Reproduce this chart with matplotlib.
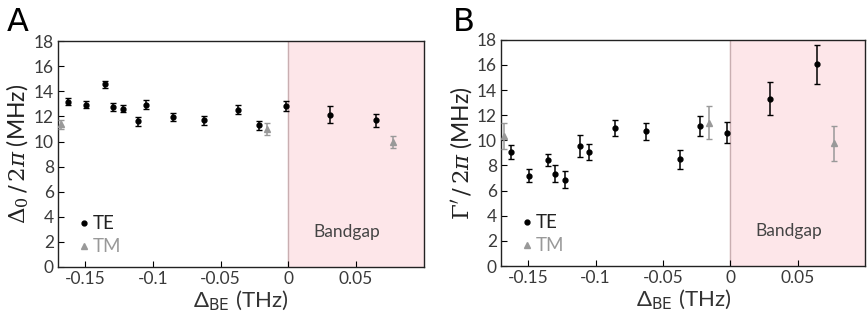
import numpy as np
import matplotlib
matplotlib.use("Agg")
import matplotlib.pyplot as plt

plt.rcParams["font.family"] = ["Lato", "DejaVu Sans"]
plt.rcParams["mathtext.fontset"] = "dejavuserif"

# panel A: Delta_0 / 2pi
te_x_a = [-0.1624, -0.149, -0.135, -0.1295, -0.1223, -0.111, -0.1048, -0.0852,
          -0.0624, -0.0369, -0.022, -0.002, 0.0305, 0.0646]
te_y_a = [13.16, 12.95, 14.55, 12.74, 12.63, 11.6, 12.95, 11.97,
          11.68, 12.53, 11.3, 12.85, 12.15, 11.68]
te_e_a = [0.28, 0.25, 0.25, 0.3, 0.3, 0.35, 0.35, 0.3,
          0.35, 0.35, 0.35, 0.4, 0.65, 0.55]
tm_x_a = [-0.1677, -0.0158, 0.077]
tm_y_a = [11.38, 10.98, 9.97]
tm_e_a = [0.35, 0.5, 0.45]

# panel B: Gamma' / 2pi
te_x_b = [-0.163, -0.1496, -0.1355, -0.130, -0.1228, -0.1117, -0.1048, -0.0854,
          -0.0627, -0.0371, -0.0225, -0.0025, 0.0297, 0.0641]
te_y_b = [9.05, 7.19, 8.42, 7.35, 6.85, 9.53, 9.05, 11.02,
          10.72, 8.49, 11.15, 10.62, 13.33, 16.06]
te_e_b = [0.56, 0.52, 0.5, 0.66, 0.68, 0.89, 0.64, 0.64,
          0.69, 0.73, 0.8, 0.84, 1.33, 1.55]
tm_x_b = [-0.1682, -0.0161, 0.0765]
tm_y_b = [10.35, 11.41, 9.77]
tm_e_b = [1.04, 1.31, 1.38]

xticks = [-0.15, -0.1, -0.05, 0, 0.05]
xticklabels = ["-0.15", "-0.1", "-0.05", "0", "0.05"]
yticks = np.arange(0, 19, 2)

tick_col = "#3a3a3a"
tm_col = "#999999"

fig = plt.figure(figsize=(8.67, 3.24), dpi=100)
ax_a = fig.add_axes([0.0669, 0.176, 0.422, 0.697])
ax_b = fig.add_axes([0.578, 0.179, 0.42, 0.698])


def draw_panel(ax, tex, tey, tee, tmx, tmy, tme, ylab):
    ax.axvspan(0, 0.1, color="#fde6e9", zorder=0)
    ax.axvline(0, color="#c9aeb1", lw=1.0, zorder=1)
    ax.errorbar(tex, tey, yerr=tee, fmt="o", color="black", ms=3.5,
                elinewidth=1.1, capsize=2, capthick=1.0, label="TE", zorder=3)
    ax.errorbar(tmx, tmy, yerr=tme, fmt="^", color=tm_col, ms=4.5,
                elinewidth=1.1, capsize=2, capthick=1.0, label="TM", zorder=3)
    ax.set_xlim(-0.17, 0.1)
    ax.set_ylim(0, 18)
    ax.set_xticks(xticks)
    ax.set_xticklabels(xticklabels)
    ax.set_yticks(yticks)
    ax.tick_params(direction="in", length=4, width=0.8, labelsize=12.5,
                   labelcolor=tick_col, pad=3)
    for sp in ax.spines.values():
        sp.set_color("#222222")
        sp.set_linewidth(1.0)
    ax.set_xlabel(r"Δ$_\mathsf{BE}$ (THz)", fontsize=16, color="#333333",
                  labelpad=1)
    ax.set_ylabel(ylab, fontsize=16.5, color="#222222", labelpad=2)
    ax.text(0.043, 2.8, "Bandgap", fontsize=12.5, color="#444444", ha="center",
            va="center")
    ax.plot([-0.1505], [3.5], "o", color="black", ms=3.5)
    ax.plot([-0.1505], [1.65], "^", color=tm_col, ms=4.5)
    ax.text(-0.1445, 3.5, "TE", fontsize=13.5, color="#222222", va="center")
    ax.text(-0.1445, 1.65, "TM", fontsize=13.5, color=tm_col, va="center")


draw_panel(ax_a, te_x_a, te_y_a, te_e_a, tm_x_a, tm_y_a, tm_e_a,
           r"$\Delta_0\,/\,2\pi$ (MHz)")
draw_panel(ax_b, te_x_b, te_y_b, te_e_b, tm_x_b, tm_y_b, tm_e_b,
           r"$\Gamma'\,/\,2\pi$ (MHz)")

fig.text(0.008, 0.93, "A", fontsize=23, family="DejaVu Sans", va="center")
fig.text(0.522, 0.93, "B", fontsize=23, family="DejaVu Sans", va="center")

fig.savefig("out.png", dpi=100)
